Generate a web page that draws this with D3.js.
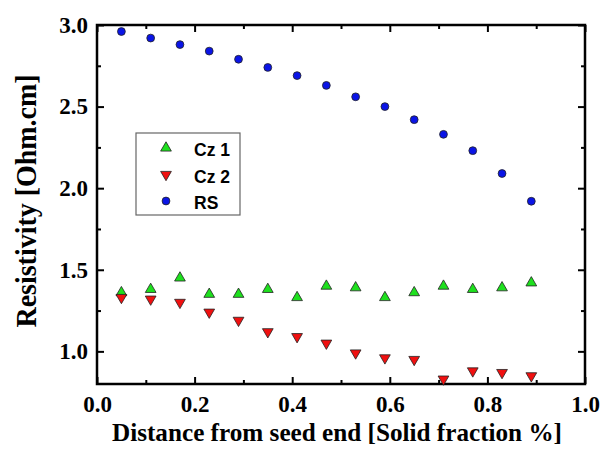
<!DOCTYPE html>
<html>
<head>
<meta charset="utf-8">
<script src="https://cdn.jsdelivr.net/npm/d3@7"></script>
<style>
  body { margin: 0; background: #fff; }
</style>
</head>
<body>
<div id="chart"></div>
<script>
// data
const fraction = [0.05, 0.11, 0.17, 0.23, 0.29, 0.35, 0.41, 0.47, 0.53, 0.59, 0.65, 0.71, 0.77, 0.83, 0.89];
const cz1 = [1.36, 1.38, 1.45, 1.35, 1.35, 1.38, 1.33, 1.40, 1.39, 1.33, 1.36, 1.40, 1.38, 1.39, 1.42];
const cz2 = [1.33, 1.32, 1.30, 1.24, 1.19, 1.12, 1.09, 1.05, 0.99, 0.96, 0.95, 0.83, 0.88, 0.87, 0.85];
const rs = [2.96, 2.92, 2.88, 2.84, 2.79, 2.74, 2.69, 2.63, 2.56, 2.50, 2.42, 2.33, 2.23, 2.09, 1.92];
const xTicks = [0.0, 0.2, 0.4, 0.6, 0.8, 1.0];
const yTicks = [1.0, 1.5, 2.0, 2.5, 3.0];
const xMinor = [0.1, 0.3, 0.5, 0.7, 0.9];
const yMinor = [1.25, 1.75, 2.25, 2.75];

const width = 603, height = 453;
const margin = { top: 25, right: 18, bottom: 69, left: 97 };
const serif = "'Liberation Serif', 'Times New Roman', serif";
const sans = "'Liberation Sans', Arial, sans-serif";

const svg = d3.select("#chart").append("svg")
    .attr("width", width)
    .attr("height", height);

const x = d3.scaleLinear().domain([0, 1]).range([margin.left, width - margin.right]);
const y = d3.scaleLinear().domain([0.8, 3.0]).range([height - margin.bottom, margin.top]);

const plotW = width - margin.left - margin.right;
const plotH = height - margin.top - margin.bottom;

// ticks point inward on all four sides
function tickAxis(axisFn, scale, major, minor, tx, ty, labels, pad) {
    const gMinor = svg.append("g").attr("transform", `translate(${tx},${ty})`)
        .call(axisFn(scale).tickValues(minor).tickSize(-4).tickFormat(""));
    gMinor.select(".domain").remove();
    const g = svg.append("g").attr("transform", `translate(${tx},${ty})`)
        .call(axisFn(scale).tickValues(major).tickSize(-7).tickPadding(pad || 3)
            .tickFormat(labels ? d3.format(".1f") : ""));
    g.select(".domain").remove();
    g.attr("font-family", serif).attr("font-size", 23).attr("font-weight", "bold");
    svg.selectAll(".tick line").attr("stroke", "#000").attr("stroke-width", 2);
    return g;
}

const gx = tickAxis(d3.axisBottom, x, xTicks, xMinor, 0, height - margin.bottom, true, 12);
gx.selectAll("text").attr("fill", "#000");
tickAxis(d3.axisTop, x, xTicks, xMinor, 0, margin.top, false);
const gy = tickAxis(d3.axisLeft, y, yTicks, yMinor, margin.left, 0, true, 9);
gy.selectAll("text").attr("fill", "#000");
tickAxis(d3.axisRight, y, yTicks, yMinor, width - margin.right, 0, false);

// frame
svg.append("rect")
    .attr("x", margin.left).attr("y", margin.top)
    .attr("width", plotW).attr("height", plotH)
    .attr("fill", "none").attr("stroke", "#000").attr("stroke-width", 2.5);

// axis titles
svg.append("text")
    .attr("x", 337)
    .attr("y", 441)
    .attr("text-anchor", "middle")
    .attr("font-family", serif).attr("font-weight", "bold")
    .attr("font-size", 26)
    .attr("textLength", 450).attr("lengthAdjust", "spacingAndGlyphs")
    .text("Distance from seed end [Solid fraction %]");

svg.append("text")
    .attr("transform", "translate(36, 201) rotate(-90)")
    .attr("text-anchor", "middle")
    .attr("font-family", serif).attr("font-weight", "bold")
    .attr("font-size", 30)
    .attr("textLength", 253).attr("lengthAdjust", "spacingAndGlyphs")
    .text("Resistivity [Ohm.cm]");

// markers
const tri = d3.symbol().type(d3.symbolTriangle).size(50);
const dot = d3.symbol().type(d3.symbolCircle).size(48);

const series = [
    { name: "Cz 1", values: cz1, fill: "#1ee01e", sym: tri, rot: 0 },
    { name: "Cz 2", values: cz2, fill: "#f01010", sym: tri, rot: 180 },
    { name: "RS", values: rs, fill: "#0a14e6", sym: dot, rot: 0 }
];

series.forEach(s => {
    svg.append("g")
        .selectAll("path")
        .data(fraction.map((f, i) => [f, s.values[i]]))
        .enter()
        .append("path")
        .attr("d", s.sym())
        .attr("transform", d => `translate(${x(d[0])},${y(d[1])}) rotate(${s.rot})`)
        .attr("fill", s.fill)
        .attr("stroke", "#222")
        .attr("stroke-width", 0.8);
});

// legend
const legend = svg.append("g").attr("transform", "translate(136,133)");
legend.append("rect")
    .attr("width", 104).attr("height", 82)
    .attr("fill", "#fff").attr("stroke", "#666").attr("stroke-width", 1.2);

series.forEach((s, i) => {
    const ly = 15 + i * 26.5;
    legend.append("path")
        .attr("d", s.sym())
        .attr("transform", `translate(30,${ly}) rotate(${s.rot})`)
        .attr("fill", s.fill)
        .attr("stroke", "#222")
        .attr("stroke-width", 0.8);
    legend.append("text")
        .attr("x", 58).attr("y", ly + 8)
        .attr("font-family", sans).attr("font-weight", "bold")
        .attr("font-size", 17.5)
        .text(s.name);
});
</script>
</body>
</html>
